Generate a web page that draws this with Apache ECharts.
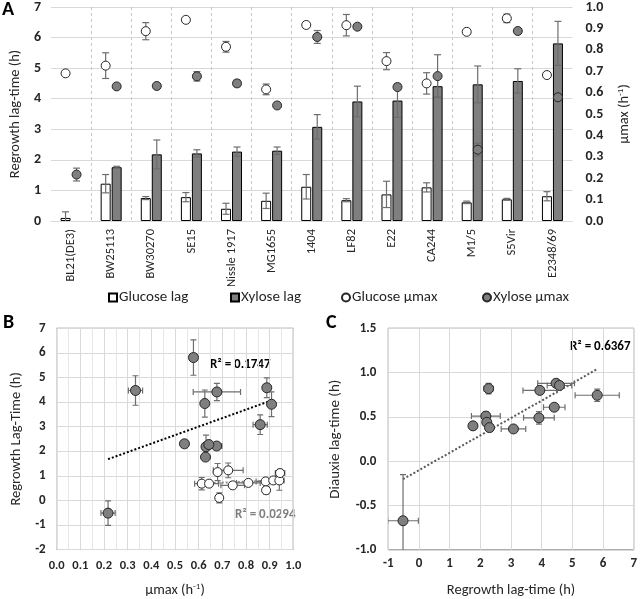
<!DOCTYPE html>
<html><head><meta charset="utf-8">
<script src="https://cdn.jsdelivr.net/npm/echarts@6/dist/echarts.min.js"></script>
<style>html,body{margin:0;padding:0;background:#fff}#c{width:640px;height:599px}</style>
</head><body><div id="c"></div>
<script>
// ---------- Panel A data (per strain) ----------
const strains = ['BL21(DE3)','BW25113','BW30270','SE15','Nissle 1917','MG1655','1404','LF82','E22','CA244','M1/5','S5Vir','E2348/69'];
const glucoseLag    = [0.10, 1.22, 0.75, 0.78, 0.40, 0.66, 1.12, 0.68, 0.87, 1.10, 0.61, 0.71, 0.81];
const glucoseLagErr = [0.20, 0.30, 0.05, 0.15, 0.18, 0.25, 0.40, 0.05, 0.43, 0.15, 0.04, 0.03, 0.15];
const xyloseLag     = [-0.52, 1.76, 2.18, 2.21, 2.27, 2.30, 3.08, 3.91, 3.94, 4.41, 4.47, 4.58, 5.81];
const xyloseLagErr  = [0.50, 0.03, 0.47, 0.12, 0.15, 0.12, 0.40, 0.50, 0.55, 0.35, 0.60, 0.40, 0.72];
const glucoseMu     = [0.690, 0.726, 0.887, 0.940, 0.814, 0.615, 0.916, 0.915, 0.747, 0.643, 0.884, 0.947, 0.682];
const glucoseMuErr  = [0.010, 0.060, 0.040, 0.010, 0.025, 0.025, 0.010, 0.050, 0.040, 0.050, 0.010, 0.020, 0.010];
const xyloseMu      = [0.217, 0.629, 0.631, 0.676, 0.643, 0.540, 0.860, 0.908, 0.626, 0.677, 0.333, 0.888, 0.578];
const xyloseMuErr   = [0.030, 0.005, 0.005, 0.022, 0.015, 0.005, 0.030, 0.010, 0.010, 0.100, 0.030, 0.005, 0.005];
// ---------- Panel B glucose points ----------
const bGluMu     = [0.687, 0.725, 0.680, 0.613, 0.644, 0.744, 0.810, 0.883, 0.915, 0.941, 0.885, 0.944];
const bGluLag    = [0.10, 1.22, 1.15, 0.68, 0.68, 0.61, 0.71, 0.77, 0.81, 0.81, 0.41, 1.11];
const bGluMuErr  = [0.010, 0.063, 0.010, 0.030, 0.040, 0.050, 0.050, 0.040, 0.010, 0.020, 0.010, 0.020];
const bGluLagErr = [0.20, 0.30, 0.35, 0.25, 0.05, 0.05, 0.05, 0.10, 0.05, 0.40, 0.15, 0.15];
// ---------- Panel C (diauxie lag per strain) ----------
const diauxieLag    = [-0.67, 0.40, 0.51, 0.44, 0.82, 0.38, 0.365, 0.49, 0.80, 0.61, 0.88, 0.855, 0.745];
const diauxieLagErr = [0.52, 0.02, 0.05, 0.03, 0.06, 0.04, 0.02, 0.07, 0.04, 0.03, 0.02, 0.03, 0.07];
// ---------- texts ----------
const r2B1 = 'R² = 0.1747', r2B2 = 'R² = 0.0294', r2C = 'R² = 0.6367';

const F = 'Carlito, Lato, "Open Sans", sans-serif';
const TXT = '#262626';
const ERR = '#6e6e6e';

function linreg(xs, ys) {
  const n = xs.length;
  const mx = xs.reduce((a,b)=>a+b,0)/n, my = ys.reduce((a,b)=>a+b,0)/n;
  let sxy=0, sxx=0;
  for (let i=0;i<n;i++){ sxy+=(xs[i]-mx)*(ys[i]-my); sxx+=(xs[i]-mx)**2; }
  const b = sxy/sxx, a = my - b*mx;
  const x0 = Math.min(...xs), x1 = Math.max(...xs);
  return [[x0, a+b*x0],[x1, a+b*x1]];
}

function errRender(offsetPx, cap) {
  return function(params, api) {
    const x = api.value(0), y = api.value(1), xe = api.value(2), ye = api.value(3);
    const st = {stroke: ERR, lineWidth: 1.2};
    const ch = [];
    if (ye) {
      const t = api.coord([x, y+ye]), b = api.coord([x, y-ye]);
      const cx = t[0] + offsetPx;
      ch.push({type:'line', shape:{x1:cx,y1:t[1],x2:cx,y2:b[1]}, style:st});
      ch.push({type:'line', shape:{x1:cx-cap,y1:t[1],x2:cx+cap,y2:t[1]}, style:st});
      ch.push({type:'line', shape:{x1:cx-cap,y1:b[1],x2:cx+cap,y2:b[1]}, style:st});
    }
    if (xe) {
      const l = api.coord([x-xe, y]), r = api.coord([x+xe, y]);
      ch.push({type:'line', shape:{x1:l[0],y1:l[1],x2:r[0],y2:r[1]}, style:st});
      ch.push({type:'line', shape:{x1:l[0],y1:l[1]-cap,x2:l[0],y2:l[1]+cap}, style:st});
      ch.push({type:'line', shape:{x1:r[0],y1:r[1]-cap,x2:r[0],y2:r[1]+cap}, style:st});
    }
    return {type:'group', children: ch};
  };
}

const idx = strains.map((s,i)=>i);
const sup = {fontSize: 9, fontFamily: F, verticalAlign: 'top', padding: [0,0,7,0]};

const trendBX = linreg(xyloseMu, xyloseLag);
const trendBG = linreg(bGluMu, bGluLag);
const trendC  = linreg(xyloseLag, diauxieLag);

const boldLbl = (sz) => ({fontFamily: F, fontWeight: 'bold', fontSize: sz, color: TXT});
const legTxt = {fontFamily: F, fontSize: 15, color: TXT, padding: [0,0,0,-3]};

const option = {
  animation: false,
  backgroundColor: '#fff',
  textStyle: {fontFamily: F},
  grid: [
    {left: 48, top: 6, width: 533, height: 215},
    {left: 56.7, top: 328.3, width: 236.6, height: 224, show: true, borderColor: '#595959', borderWidth: 1},
    {left: 388.3, top: 328.3, width: 246.7, height: 224, show: true, borderColor: '#595959', borderWidth: 1}
  ],
  xAxis: [
    {gridIndex: 0, type: 'category', data: strains,
     axisLine: {lineStyle: {color: '#d9d9d9'}}, axisTick: {show: false},
     axisLabel: {rotate: 90, fontSize: 12.5, fontFamily: F, color: TXT, margin: 8, interval: 0},
     splitLine: {show: true, showMinLine: false, showMaxLine: false, lineStyle: {type: [3,3], color: '#c8c8c8'}}},
    {gridIndex: 1, type: 'value', min: 0, max: 1, interval: 0.1,
     axisLine: {show: false}, axisTick: {show: false},
     axisLabel: Object.assign(boldLbl(12.5), {margin: 10, formatter: v => v.toFixed(1)}),
     splitLine: {lineStyle: {color: '#d9d9d9'}},
     minorTick: {show: false, splitNumber: 2},
     minorSplitLine: {show: true, lineStyle: {color: '#e6e6e6'}},
     name: 'µmax (h{sup|-1})', nameLocation: 'middle', nameGap: 33,
     nameTextStyle: {fontFamily: F, fontSize: 14.5, color: TXT, rich: {sup}}},
    {gridIndex: 2, type: 'value', min: -1, max: 7, interval: 1,
     axisLine: {show: false}, axisTick: {show: false},
     axisLabel: Object.assign(boldLbl(13), {margin: 7}),
     splitLine: {lineStyle: {color: '#d9d9d9'}},
     name: 'Regrowth lag-time (h)', nameLocation: 'middle', nameGap: 33,
     nameTextStyle: {fontFamily: F, fontSize: 14.5, color: TXT}}
  ],
  yAxis: [
    {gridIndex: 0, type: 'value', min: 0, max: 7, interval: 1,
     axisLine: {show: false}, axisTick: {show: false},
     axisLabel: Object.assign(boldLbl(14), {margin: 10}),
     splitLine: {lineStyle: {color: '#d9d9d9'}},
     name: 'Regrowth lag-time (h)', nameLocation: 'middle', nameGap: 27,
     nameTextStyle: {fontFamily: F, fontSize: 14.5, color: TXT}},
    {gridIndex: 0, type: 'value', min: 0, max: 1, interval: 0.1, position: 'right',
     axisLine: {show: false}, axisTick: {show: false},
     axisLabel: Object.assign(boldLbl(14), {margin: 13, formatter: v => v.toFixed(1)}),
     splitLine: {show: false},
     name: 'µmax (h{sup|-1})', nameLocation: 'middle', nameGap: 44,
     nameTextStyle: {fontFamily: F, fontSize: 14.5, color: TXT, rich: {sup}}},
    {gridIndex: 1, type: 'value', min: -2, max: 7, interval: 1,
     axisLine: {show: false}, axisTick: {show: false},
     axisLabel: Object.assign(boldLbl(13), {margin: 11}),
     splitLine: {lineStyle: {color: '#d9d9d9'}},
     name: 'Regrowth Lag-Time (h)', nameLocation: 'middle', nameGap: 33,
     nameTextStyle: {fontFamily: F, fontSize: 14.5, color: TXT}},
    {gridIndex: 2, type: 'value', min: -1, max: 1.5, interval: 0.5,
     axisLine: {show: false}, axisTick: {show: false},
     axisLabel: Object.assign(boldLbl(13), {margin: 12, formatter: v => v.toFixed(1)}),
     splitLine: {lineStyle: {color: '#d9d9d9'}},
     name: 'Diauxie lag-time (h)', nameLocation: 'middle', nameGap: 46,
     nameTextStyle: {fontFamily: F, fontSize: 15, color: TXT}}
  ],
  legend: [
    {left: 103, top: 285, itemWidth: 8, itemHeight: 8, itemGap: 0, data: [{name: 'Glucose lag', icon: 'rect'}], textStyle: legTxt},
    {left: 225, top: 285, itemWidth: 8, itemHeight: 8, itemGap: 0, data: [{name: 'Xylose lag', icon: 'rect'}], textStyle: legTxt},
    {left: 336, top: 285, itemWidth: 8, itemHeight: 8, itemGap: 0, data: [{name: 'Glucose µmax', icon: 'circle'}], textStyle: legTxt},
    {left: 477, top: 285, itemWidth: 8, itemHeight: 8, itemGap: 0, data: [{name: 'Xylose µmax', icon: 'circle'}], textStyle: legTxt}
  ],
  series: [
    // ----- Panel A -----
    {name: 'Glucose lag', type: 'bar', xAxisIndex: 0, yAxisIndex: 0, data: glucoseLag,
     barWidth: 10, barGap: '10%', clip: true,
     itemStyle: {color: '#ffffff', borderColor: '#000', borderWidth: 1}},
    {name: 'Xylose lag', type: 'bar', xAxisIndex: 0, yAxisIndex: 0, data: xyloseLag,
     barWidth: 10, clip: true,
     itemStyle: {color: '#7f7f7f', borderColor: '#000', borderWidth: 1}},
    {type: 'custom', xAxisIndex: 0, yAxisIndex: 0, clip: true, z: 3,
     renderItem: errRender(-5.5, 3.5), encode: {x: 0, y: 1},
     data: idx.filter(i => glucoseLag[i] >= 0).map(i => [i, glucoseLag[i], 0, glucoseLagErr[i]])},
    {type: 'custom', xAxisIndex: 0, yAxisIndex: 0, clip: true, z: 3,
     renderItem: errRender(5.5, 3.5), encode: {x: 0, y: 1},
     data: idx.filter(i => xyloseLag[i] >= 0).map(i => [i, xyloseLag[i], 0, xyloseLagErr[i]])},
    {type: 'custom', xAxisIndex: 0, yAxisIndex: 1, clip: true, z: 4,
     renderItem: errRender(-5.5, 3.5), encode: {x: 0, y: 1},
     data: idx.map(i => [i, glucoseMu[i], 0, glucoseMuErr[i]])},
    {type: 'custom', xAxisIndex: 0, yAxisIndex: 1, clip: true, z: 4,
     renderItem: errRender(5.5, 3.5), encode: {x: 0, y: 1},
     data: idx.map(i => [i, xyloseMu[i], 0, xyloseMuErr[i]])},
    {name: 'Glucose µmax', type: 'scatter', xAxisIndex: 0, yAxisIndex: 1, data: glucoseMu,
     symbolSize: 9, symbolOffset: [-5.5, 0], z: 5,
     itemStyle: {color: '#ffffff', borderColor: '#262626', borderWidth: 1, opacity: 1}},
    {name: 'Xylose µmax', type: 'scatter', xAxisIndex: 0, yAxisIndex: 1, data: xyloseMu,
     symbolSize: 9, symbolOffset: [5.5, 0], z: 5,
     itemStyle: {color: '#7f7f7f', borderColor: '#262626', borderWidth: 1, opacity: 1}},
    // ----- Panel B -----
    {type: 'line', xAxisIndex: 1, yAxisIndex: 2, data: trendBX, symbol: 'none', z: 2,
     lineStyle: {color: '#000', width: 2, type: [2,2]}},
    {type: 'line', xAxisIndex: 1, yAxisIndex: 2, data: trendBG, symbol: 'none', z: 2,
     lineStyle: {color: '#8c8c8c', width: 2, type: [2,2]}},
    {type: 'custom', xAxisIndex: 1, yAxisIndex: 2, clip: true, z: 3,
     renderItem: errRender(0, 3), encode: {x: 0, y: 1},
     data: idx.map(i => [xyloseMu[i], xyloseLag[i], xyloseMuErr[i], xyloseLagErr[i]])},
    {type: 'custom', xAxisIndex: 1, yAxisIndex: 2, clip: true, z: 3,
     renderItem: errRender(0, 3), encode: {x: 0, y: 1},
     data: bGluMu.map((m, i) => [m, bGluLag[i], bGluMuErr[i], bGluLagErr[i]])},
    {type: 'scatter', xAxisIndex: 1, yAxisIndex: 2, symbolSize: 10, z: 5,
     data: idx.map(i => [xyloseMu[i], xyloseLag[i]]),
     itemStyle: {color: '#7f7f7f', borderColor: '#262626', borderWidth: 1, opacity: 1}},
    {type: 'scatter', xAxisIndex: 1, yAxisIndex: 2, symbolSize: 9, z: 5,
     data: bGluMu.map((m, i) => [m, bGluLag[i]]),
     itemStyle: {color: '#ffffff', borderColor: '#262626', borderWidth: 1, opacity: 1}},
    // ----- Panel C -----
    {type: 'line', xAxisIndex: 2, yAxisIndex: 3, data: trendC, symbol: 'none', z: 2,
     lineStyle: {color: '#595959', width: 2, type: [2,2]}},
    {type: 'custom', xAxisIndex: 2, yAxisIndex: 3, clip: true, z: 3,
     renderItem: errRender(0, 3), encode: {x: 0, y: 1},
     data: idx.map(i => [xyloseLag[i], diauxieLag[i], xyloseLagErr[i], diauxieLagErr[i]])},
    {type: 'scatter', xAxisIndex: 2, yAxisIndex: 3, symbolSize: 10, z: 5,
     data: idx.map(i => [xyloseLag[i], diauxieLag[i]]),
     itemStyle: {color: '#7f7f7f', borderColor: '#262626', borderWidth: 1, opacity: 1}}
  ],
  graphic: [
    {type: 'text', left: 2, top: 0, style: {text: 'A', font: 'bold 20px ' + F, fill: '#000'}},
    {type: 'text', left: 3, top: 313, style: {text: 'B', font: 'bold 20px ' + F, fill: '#000'}},
    {type: 'text', left: 326, top: 313, style: {text: 'C', font: 'bold 20px ' + F, fill: '#000'}},
    {type: 'text', left: 210, top: 358, style: {text: r2B1, font: 'bold 13px ' + F, fill: '#000'}},
    {type: 'text', left: 235, top: 508, style: {text: r2B2, font: 'bold 13px ' + F, fill: '#7f7f7f'}},
    {type: 'text', left: 570, top: 340, style: {text: r2C, font: 'bold 13px ' + F, fill: '#000'}}
  ]
};

const chart = echarts.init(document.getElementById('c'));
chart.setOption(option);
</script>
</body></html>
